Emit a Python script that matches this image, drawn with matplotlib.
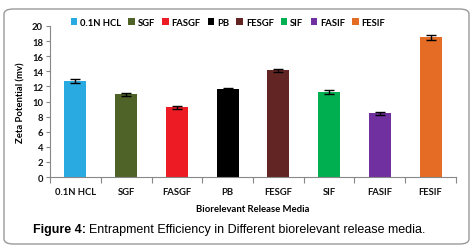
import matplotlib
matplotlib.use("Agg")
import matplotlib.pyplot as plt
from matplotlib.patches import FancyBboxPatch, Patch

categories = ["0.1N HCL", "SGF", "FASGF", "PB", "FESGF", "SIF", "FASIF", "FESIF"]
values = [12.75, 10.95, 9.25, 11.65, 14.15, 11.25, 8.45, 18.5]
errors = [0.25, 0.2, 0.2, 0.2, 0.2, 0.25, 0.2, 0.3]
colors = ["#29ABE2", "#4F6228", "#ED1C24", "#000000", "#632523", "#00B050", "#7030A0", "#E46C24"]
yticks = [0, 2, 4, 6, 8, 10, 12, 14, 16, 18, 20]

W, H = 476, 253
fig = plt.figure(figsize=(W / 100, H / 100), dpi=100)
fig.patch.set_facecolor("white")

border = FancyBboxPatch((4 / W, 1 - 245 / H), 465 / W, 235 / H,
                        boxstyle="round,pad=0,rounding_size=0.02",
                        transform=fig.transFigure, facecolor="none",
                        edgecolor="#9a9a9a", linewidth=1.0)
fig.patches.append(border)

font = {"family": "Lato", "weight": "bold", "size": 6.8}

ax = fig.add_axes([50 / W, 1 - 178 / H, 406 / W, 151 / H])
x = list(range(len(categories)))
ax.bar(x, values, width=0.43, color=colors, zorder=2)
ax.errorbar(x, values, yerr=errors, fmt="none", ecolor="black", elinewidth=1.0,
            capsize=3.5, capthick=1.0, zorder=3)

ax.set_xlim(-0.5, len(categories) - 0.5)
ax.set_ylim(0, 20)
ax.set_yticks(yticks)
ax.set_xticks(x)
ax.set_xticklabels(categories)
ax.set_xticks([i - 0.5 for i in range(len(categories) + 1)], minor=True)
ax.tick_params(axis="x", which="major", length=0, pad=7)
ax.tick_params(axis="x", which="minor", length=4, color="#888888", width=0.8)
ax.tick_params(axis="y", length=3, color="#888888", width=0.8, pad=2)
for lab in ax.get_xticklabels() + ax.get_yticklabels():
    lab.set_fontfamily(font["family"])
    lab.set_fontweight("bold")
    lab.set_fontsize(font["size"])
    lab.set_color("#111111")
for s in ["top", "right"]:
    ax.spines[s].set_visible(False)
for s in ["left", "bottom"]:
    ax.spines[s].set_color("#888888")
    ax.spines[s].set_linewidth(0.8)

ax.set_ylabel("Zeta Potential (mv)", fontdict=font, labelpad=5)
ax.set_xlabel("Biorelevant Release Media", fontdict=font, labelpad=6)

handles = [Patch(facecolor=c, edgecolor="none") for c in colors]
leg = fig.legend(handles, categories, loc="center", bbox_to_anchor=(228 / W, 1 - 23 / H),
                 ncol=8, frameon=False, prop=font,
                 handlelength=0.7, handleheight=0.7, handletextpad=0.3, columnspacing=0.75)

renderer = fig.canvas.get_renderer()
t1 = fig.text(33 / W, 1 - 230 / H, "Figure 4:", fontfamily="Liberation Sans", fontweight="bold",
              fontsize=9, va="center", ha="left")
bb = t1.get_window_extent(renderer=renderer)
fig.text((bb.x1 + 3) / W, 1 - 230 / H, "Entrapment Efficiency in Different biorelevant release media.",
         fontfamily="Liberation Sans", fontsize=9, va="center", ha="left")

fig.savefig("out.png", dpi=100, facecolor="white")
